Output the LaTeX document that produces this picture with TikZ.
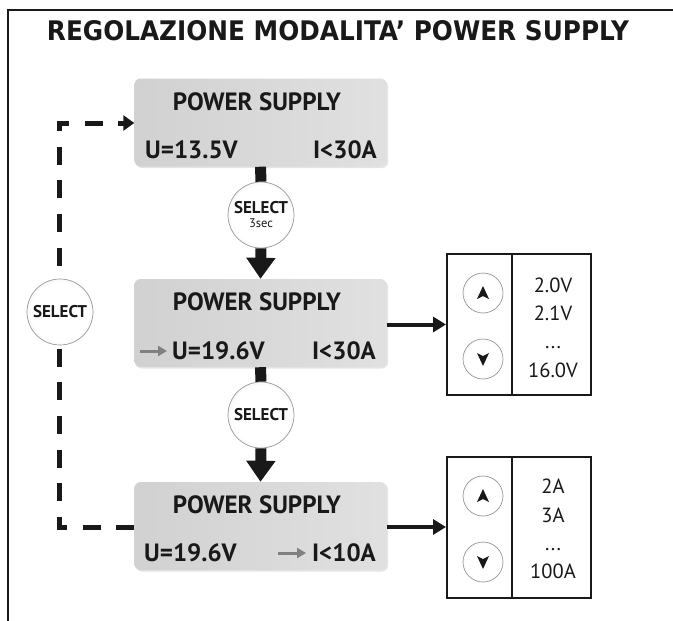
\documentclass[tikz,border=0pt]{standalone}
\usepackage{fontspec}
\setmainfont{PT Sans}
\newfontfamily\titlefont{DejaVu Sans}
\usetikzlibrary{arrows.meta,shadows,calc}
\pgfdeclareradialshading{btnshade}{\pgfpoint{0bp}{0bp}}{color(0bp)=(white); color(22bp)=(white); color(50bp)=(black!26)}
\begin{document}
\begin{tikzpicture}[x=1pt,y=-1pt,
  lcd/.style={rectangle, rounded corners=6pt, minimum width=252pt, minimum height=88pt,
    left color=black!18, right color=black!12, draw=none,
    drop shadow={opacity=0.2, shadow xshift=1.5pt, shadow yshift=-1.5pt}},
  lcdtxt/.style={inner sep=0pt, text=black!90, font=\fontsize{25}{28}\selectfont\bfseries},
  selbtn/.style={circle, minimum size=66pt, inner sep=0pt, draw=black!40, line width=0.7pt,
    shading=btnshade, align=center, text=black!90},
  keybtn/.style={circle, minimum size=40pt, inner sep=0pt, draw=black!40, line width=0.7pt,
    shading=btnshade},
  panel/.style={rectangle, draw=black!90, line width=2pt, minimum width=144pt, minimum height=141pt, inner sep=0pt},
  valtxt/.style={inner sep=0pt, anchor=base, text=black!90, font=\fontsize{20.5}{24}\selectfont},
  bigarrow/.style={line width=11pt, black!90},
  sidearrow/.style={line width=4pt, black!90, -{Triangle[length=13pt,width=15pt]}},
  grayarrow/.style={line width=3pt, black!50, -{Triangle[length=9pt,width=10pt]}},
  loopline/.style={line width=5pt, black!90, dash pattern=on 18pt off 15.67pt, dash phase=12.33pt},
]
\useasboundingbox (0,0) rectangle (673,621);
\fill[white] (0,0) rectangle (673,621);
% frame
\draw[line width=2pt, black!90] (8,621) -- (8,10) -- (673,10);
% title
\node (title) at (338,31) {\resizebox{582pt}{20pt}{\titlefont\bfseries\color{black!90}REGOLAZIONE MODALITA’ POWER SUPPLY}};

% LCD boxes
\node[lcd] (box1) at (260.5,122.5) {};
\node[lcd] (box2) at (260.5,323) {};
\node[lcd] (box3) at (260.5,526) {};

% box texts
\node[lcdtxt] (ps1) at (257,102) {POWER SUPPLY};
\node[lcdtxt, anchor=west] (u1) at (145,150) {U=13.5V};
\node[lcdtxt, anchor=east] (i1) at (377,150) {I<30A};

\node[lcdtxt] (ps2) at (257,302) {POWER SUPPLY};
\node[lcdtxt, anchor=west] (u2) at (172,351) {U=19.6V};
\node[lcdtxt, anchor=east] (i2) at (376,351) {I<30A};
\coordinate (ga2s) at (140,351);
\coordinate (ga2e) at (167,351);
\draw[grayarrow] (ga2s) -- (ga2e);

\node[lcdtxt] (ps3) at (257,505) {POWER SUPPLY};
\node[lcdtxt, anchor=west] (u3) at (144,553) {U=19.6V};
\node[lcdtxt, anchor=east] (i3) at (376,553) {I<10A};
\coordinate (ga3s) at (278,553);
\coordinate (ga3e) at (306,553);
\draw[grayarrow] (ga3s) -- (ga3e);

% select buttons (centre)
\node[selbtn] (sel1) at (261,215) {};
\node[inner sep=0pt, text=black!90, font=\fontsize{17}{17}\selectfont\bfseries] (sel1a) at (261,208) {SELECT};
\node[inner sep=0pt, text=black!90, font=\fontsize{12.5}{13}\selectfont] (sel1b) at (261,223.5) {3sec};
\node[selbtn, font=\fontsize{17}{17}\selectfont\bfseries] (sel2) at (261,415) {SELECT};

\draw[bigarrow] (box1.south) -- (sel1.north);
\draw[bigarrow, -{Triangle[length=21pt,width=28pt]}] (sel1.south) -- (box2.north);
\draw[bigarrow] (box2.south) -- (sel2.north);
\draw[bigarrow, -{Triangle[length=21pt,width=28pt]}] (sel2.south) -- (box3.north);

% dashed loop
\coordinate (cBL) at (59,527);
\coordinate (cTL) at (59,123);
\draw[loopline, {Triangle[length=11pt,width=15pt]}-] (box1.west |- cTL) -- (cTL) -- (cBL) -- (box3.west |- cBL);
\node[selbtn, font=\fontsize{17}{17}\selectfont\bfseries] (selL) at (60,312) {SELECT};

% right panels
\node[panel] (pA) at (519,324.5) {};
\node[panel] (pB) at (519,527) {};
\draw[line width=1.2pt, black!90] ($(pA.north west)+(66,0)$) -- ($(pA.south west)+(66,0)$);
\draw[line width=1.2pt, black!90] ($(pB.north west)+(66,0)$) -- ($(pB.south west)+(66,0)$);

\draw[sidearrow] (box2.east |- pA.west) -- (pA.west);
\draw[sidearrow] (box3.east |- pB.west) -- (pB.west);

\node[keybtn] (upA) at (483,293) {};
\node[keybtn] (dnA) at (483,359) {};
\node[keybtn] (upB) at (483,496) {};
\node[keybtn] (dnB) at (483,562) {};
\foreach \b in {upA,upB}{
  \fill[black!90] ($(\b)+(0,-7)$) -- ($(\b)+(6,6)$) -- ($(\b)+(0,3)$) -- ($(\b)+(-6,6)$) -- cycle;
}
\foreach \b in {dnA,dnB}{
  \fill[black!90] ($(\b)+(0,7)$) -- ($(\b)+(6,-6)$) -- ($(\b)+(0,-3)$) -- ($(\b)+(-6,-6)$) -- cycle;
}

\node[valtxt] (vA1) at (553,292) {2.0V};
\node[valtxt] (vA2) at (553,320) {2.1V};
\node[valtxt] (vA3) at (553,348) {...};
\node[valtxt] (vA4) at (553,377) {16.0V};
\node[valtxt] (vB1) at (553,493) {2A};
\node[valtxt] (vB2) at (553,522) {3A};
\node[valtxt] (vB3) at (553,550) {...};
\node[valtxt] (vB4) at (553,578) {100A};
\end{tikzpicture}
\end{document}
